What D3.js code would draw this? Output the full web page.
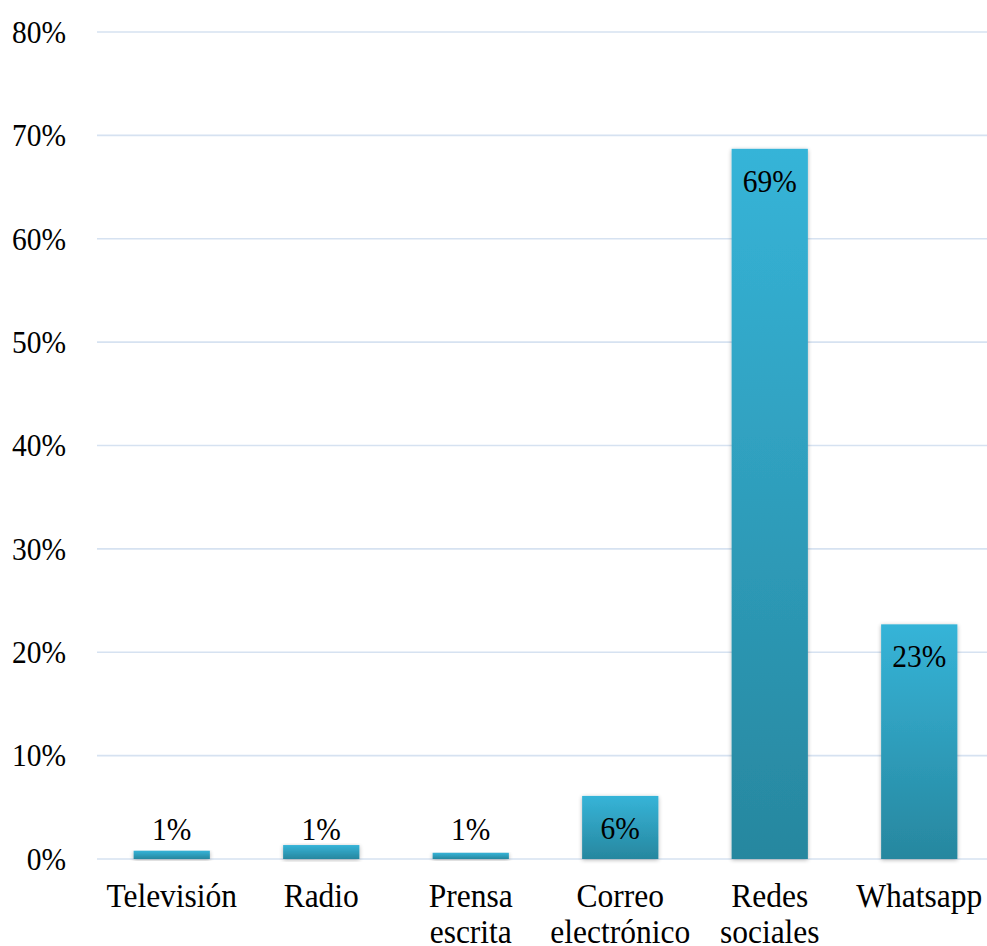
<!DOCTYPE html>
<html><head><meta charset="utf-8">
<script src="https://cdn.jsdelivr.net/npm/d3@7"></script>
<style>body{margin:0;background:#fff}svg{display:block}</style>
</head><body>
<script>
const categories = [["Televisión"],["Radio"],["Prensa","escrita"],["Correo","electrónico"],["Redes","sociales"],["Whatsapp"]];
const values = [0.008, 0.0135, 0.006, 0.061, 0.687, 0.227];
const labels = ["1%","1%","1%","6%","69%","23%"];
const yTicks = [0,0.1,0.2,0.3,0.4,0.5,0.6,0.7,0.8];

const W = 987, H = 946;
const SY = 1.08;
const svg = d3.select("body").append("svg").attr("width", W).attr("height", H);
const defs = svg.append("defs");
const grad = defs.append("linearGradient").attr("id","bg").attr("x1",0).attr("y1",0).attr("x2",0).attr("y2",1);
grad.append("stop").attr("offset","0%").attr("stop-color","#36B4D8");
grad.append("stop").attr("offset","100%").attr("stop-color","#27879F");
const f = defs.append("filter").attr("id","sh").attr("x","-20%").attr("y","-20%").attr("width","140%").attr("height","140%");
f.append("feGaussianBlur").attr("in","SourceAlpha").attr("stdDeviation",2.2).attr("result","b");
f.append("feOffset").attr("in","b").attr("dx",0).attr("dy",1).attr("result","o");
f.append("feComponentTransfer").attr("in","o").attr("result","c").append("feFuncA").attr("type","linear").attr("slope",0.3);
const m = f.append("feMerge"); m.append("feMergeNode").attr("in","c"); m.append("feMergeNode").attr("in","SourceGraphic");

const x = d3.scaleBand().domain(d3.range(categories.length)).range([97, 994]).paddingInner(0.49).paddingOuter(0.245);
const y = d3.scaleLinear().domain([0,0.8]).range([859, 32]);

const font = "'Liberation Serif','Times New Roman',serif";

// gridlines
svg.append("g").selectAll("line").data(yTicks).join("line")
  .attr("x1",97).attr("x2",W).attr("y1",d=>y(d)).attr("y2",d=>y(d))
  .attr("stroke","#D6E2F1").attr("stroke-width",1.6);

// y axis labels
const fmt = d3.format(".0%");
svg.append("g").selectAll("text").data(yTicks).join("text")
  .attr("transform",d=>`translate(66,${y(d)}) scale(1,${SY})`)
  .attr("dy","0.34em").attr("text-anchor","end")
  .attr("font-family",font).attr("font-size",29.5).attr("fill","#000")
  .text(d=>fmt(d));

// bars
svg.append("g").selectAll("rect").data(values).join("rect")
  .attr("x",(d,i)=>x(i)).attr("width",x.bandwidth())
  .attr("y",d=>y(d)).attr("height",d=>y(0)-y(d))
  .attr("fill","url(#bg)").attr("filter","url(#sh)");

// data labels
svg.append("g").selectAll("text").data(values).join("text")
  .attr("transform",(d,i)=>`translate(${x(i)+x.bandwidth()/2},${Math.min(y(d)+43, y(0)-19)}) scale(1,${SY})`)
  .attr("text-anchor","middle").attr("font-family",font).attr("font-size",29.5).attr("fill","#000")
  .text((d,i)=>labels[i]);

// category labels
const cg = svg.append("g").selectAll("text").data(categories).join("text")
  .attr("transform",(d,i)=>`translate(${x(i)+x.bandwidth()/2},907) scale(1,${SY})`)
  .attr("text-anchor","middle").attr("font-family",font).attr("font-size",31.5).attr("fill","#000");
cg.selectAll("tspan").data(d=>d).join("tspan")
  .attr("x",0).attr("dy",(d,j)=>j===0?0:33).text(d=>d);
</script>
</body></html>
